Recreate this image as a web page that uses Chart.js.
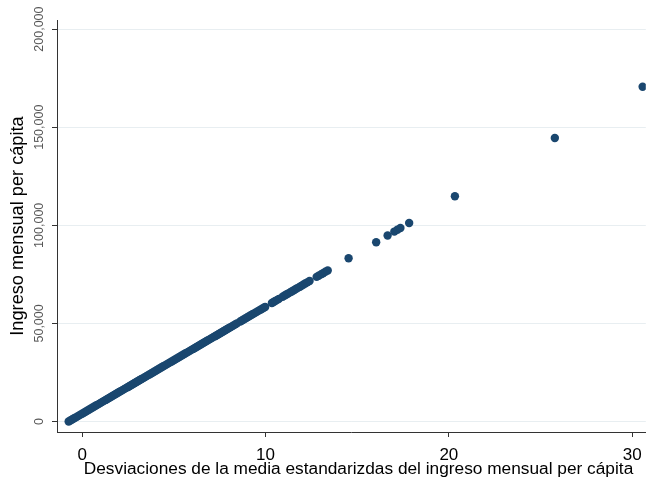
<!DOCTYPE html>
<html>
<head>
<meta charset="utf-8">
<script src="https://cdn.jsdelivr.net/npm/chart.js@4/dist/chart.umd.min.js"></script>
<style>
  html, body { margin: 0; padding: 0; background: #ffffff; }
  #wrap { width: 650px; height: 482px; }
</style>
</head>
<body>
<div id="wrap"><canvas id="c" width="650" height="482"></canvas></div>
<script>
// Ingreso mensual per cápita (eje Y)
const ingreso = [
  0, 500, 1000, 1500, 2000, 2500, 3000, 3500, 4000, 4500,
  5000, 5500, 6000, 6500, 7000, 7500, 8000, 8500, 9000, 9500,
  10000, 10500, 11000, 11500, 12000, 12500, 13000, 13500, 14000, 14500,
  15000, 15500, 16000, 16500, 17000, 17500, 18000, 18500, 19000, 19500,
  20000, 20500, 21000, 21500, 22000, 22500, 23000, 23500, 24000, 24500,
  25000, 25500, 26000, 26500, 27000, 27500, 28000, 28500, 29000, 29500,
  30000, 30500, 31000, 31500, 32000, 32500, 33000, 33500, 34000, 34500,
  35000, 35500, 36000, 36500, 37000, 37500, 38000, 38500, 39000, 39500,
  40000, 40500, 41000, 41500, 42000, 42500, 43000, 43500, 44000, 44500,
  45000, 45500, 46000, 46500, 47000, 47500, 48000, 48500, 49000, 49500,
  50000, 51000, 51500, 52000, 52500, 53000, 53500, 54000, 54500, 55000,
  55500, 56000, 56500, 57000, 57500, 58000, 58400,
  60400, 60900, 61400, 62000, 62500, 63600, 64200, 64700, 65200, 65800,
  66300, 66900, 67500, 68000, 68600, 69100, 69700, 70300, 70900, 71600,
  73700, 74300, 75000, 75600, 76300, 77000,
  83200, 91400, 94800, 96800, 97700, 98600, 101200, 114800, 144500, 170600
];

// Desviaciones estandarizadas respecto de la media (eje X)
const desviacion = [
  -0.7339, -0.6422, -0.5505, -0.4587, -0.3670, -0.2752, -0.1835, -0.0917, 0.0000, 0.0917,
  0.1835, 0.2752, 0.3670, 0.4587, 0.5505, 0.6422, 0.7339, 0.8257, 0.9174, 1.0092,
  1.1009, 1.1927, 1.2844, 1.3761, 1.4679, 1.5596, 1.6514, 1.7431, 1.8349, 1.9266,
  2.0183, 2.1101, 2.2018, 2.2936, 2.3853, 2.4771, 2.5688, 2.6606, 2.7523, 2.8440,
  2.9358, 3.0275, 3.1193, 3.2110, 3.3028, 3.3945, 3.4862, 3.5780, 3.6697, 3.7615,
  3.8532, 3.9450, 4.0367, 4.1284, 4.2202, 4.3119, 4.4037, 4.4954, 4.5872, 4.6789,
  4.7706, 4.8624, 4.9541, 5.0459, 5.1376, 5.2294, 5.3211, 5.4128, 5.5046, 5.5963,
  5.6881, 5.7798, 5.8716, 5.9633, 6.0550, 6.1468, 6.2385, 6.3303, 6.4220, 6.5138,
  6.6055, 6.6972, 6.7890, 6.8807, 6.9725, 7.0642, 7.1560, 7.2477, 7.3394, 7.4312,
  7.5229, 7.6147, 7.7064, 7.7982, 7.8899, 7.9817, 8.0734, 8.1651, 8.2569, 8.3486,
  8.4404, 8.6239, 8.7156, 8.8073, 8.8991, 8.9908, 9.0826, 9.1743, 9.2661, 9.3578,
  9.4495, 9.5413, 9.6330, 9.7248, 9.8165, 9.9083, 9.9817,
  10.3486, 10.4404, 10.5321, 10.6422, 10.7339, 10.9358, 11.0459, 11.1376, 11.2294, 11.3394,
  11.4312, 11.5413, 11.6514, 11.7431, 11.8532, 11.9450, 12.0550, 12.1651, 12.2752, 12.4037,
  12.7890, 12.8991, 13.0275, 13.1376, 13.2661, 13.3945,
  14.5321, 16.0367, 16.6606, 17.0275, 17.1927, 17.3578, 17.8349, 20.3303, 25.7798, 30.5688
];

const ticksY = [0, 50000, 100000, 150000, 200000];
const ticksX = [0, 10, 20, 30];

const tituloX = 'Desviaciones de la media estandarizdas del ingreso mensual per cápita';
const tituloY = 'Ingreso mensual per cápita';

const FONT = "'Liberation Sans', Arial, Helvetica, sans-serif";
const AZUL = '#1a476f';
const EJE = '#333333';
const REJILLA = '#e8eef1';

const puntos = ingreso.map((v, i) => ({ x: desviacion[i], y: v }));

const formato = v => v.toLocaleString('en-US');

// Etiquetas verticales del eje Y (se leen de abajo hacia arriba) y título del eje X
const textosEjes = {
  id: 'textosEjes',
  afterDraw(chart) {
    const s = chart.scales.y;
    const ctx = chart.ctx;
    ctx.save();
    ctx.fillStyle = '#555555';
    ctx.font = '12.5px ' + FONT;
    ctx.textAlign = 'center';
    ctx.textBaseline = 'middle';
    s.ticks.forEach(t => {
      const py = s.getPixelForValue(t.value);
      ctx.save();
      ctx.translate(40, py);
      ctx.rotate(-Math.PI / 2);
      ctx.fillText(formato(t.value), 0, 0);
      ctx.restore();
    });
    ctx.fillStyle = '#000000';
    ctx.font = '17.3px ' + FONT;
    ctx.fillText(tituloX, 358.5, 469.5);
    ctx.restore();
  }
};

new Chart(document.getElementById('c'), {
  type: 'scatter',
  data: {
    datasets: [{
      data: puntos,
      backgroundColor: AZUL,
      borderWidth: 0,
      pointRadius: 4.2,
      pointHoverRadius: 4.2
    }]
  },
  options: {
    responsive: false,
    animation: false,
    devicePixelRatio: 1,
    layout: { padding: { top: 20, left: 0, right: 0, bottom: 0 } },
    plugins: { legend: { display: false }, tooltip: { enabled: false } },
    scales: {
      x: {
        type: 'linear',
        min: -1.370,
        max: 30.741,
        afterBuildTicks: s => { s.ticks = ticksX.map(v => ({ value: v })); },
        afterFit: s => { s.height = 50; },
        ticks: {
          color: '#000000',
          font: { family: FONT, size: 17 },
          padding: 8,
          maxRotation: 0,
          autoSkip: false,
          callback: v => String(v)
        },
        grid: { drawOnChartArea: false, drawTicks: true, tickLength: 5, tickColor: EJE, color: EJE },
        border: { display: true, color: EJE, width: 1 },
        title: { display: false }
      },
      y: {
        type: 'linear',
        min: -5350,
        max: 204640,
        afterBuildTicks: s => { s.ticks = ticksY.map(v => ({ value: v })); },
        afterFit: s => { s.width = 57; },
        ticks: { display: false },
        grid: { drawOnChartArea: true, drawTicks: true, tickLength: 5, tickColor: EJE, color: REJILLA, lineWidth: 1 },
        border: { display: true, color: EJE, width: 1 },
        title: {
          display: true,
          text: tituloY,
          color: '#000000',
          font: { family: FONT, size: 18.2 },
          padding: { top: 7, bottom: 0 }
        }
      }
    }
  },
  plugins: [textosEjes]
});
</script>
</body>
</html>
